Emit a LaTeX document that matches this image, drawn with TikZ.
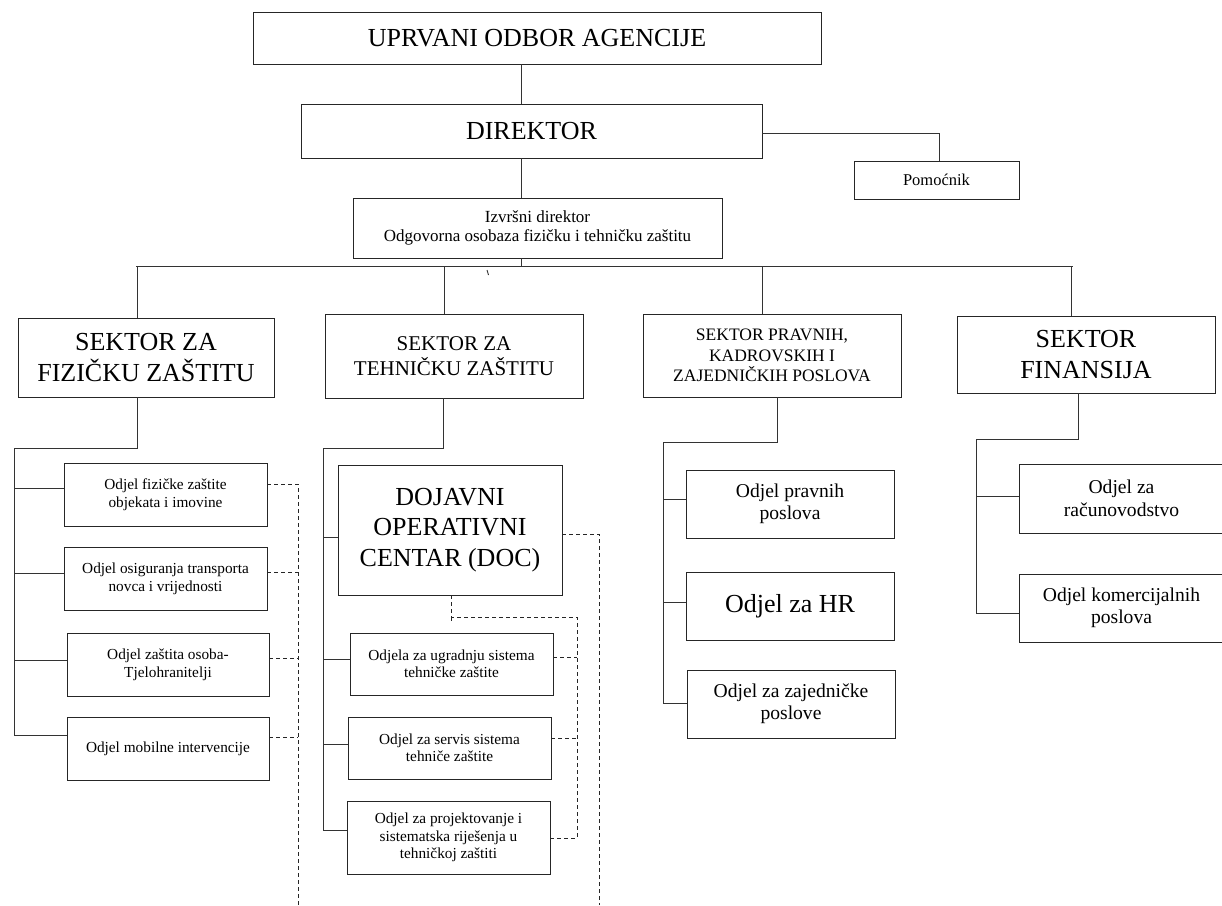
\documentclass[tikz,border=0pt]{standalone}
\usepackage{fontspec}
\setmainfont{Liberation Serif}
\begin{document}
\begin{tikzpicture}[x=1pt,y=-1pt,
  box/.style={draw=black!85, line width=0.9pt, align=center, inner sep=0pt, fill=white},
  ln/.style={draw=black!80, line width=0.9pt},
  dsh/.style={draw=black!85, line width=0.9pt, dash pattern=on 4pt off 3pt},
  fA/.style={font=\fontsize{26}{30.5}\selectfont},
  fS2/.style={font=\fontsize{21}{25}\selectfont},
  fS3/.style={font=\fontsize{17.5}{20.7}\selectfont},
  fC/.style={font=\fontsize{15.3}{18}\selectfont},
  fD/.style={font=\fontsize{15.3}{17.5}\selectfont},
  fE/.style={font=\fontsize{19.6}{22.5}\selectfont}]
\useasboundingbox (0,0) rectangle (1222,905);
% top levels
\node[box, fA, minimum width=568pt, minimum height=52pt] (top) at (537,38) {UPRVANI ODBOR AGENCIJE};
\node[box, fA, minimum width=461pt, minimum height=54pt] (dir) at (531.5,131) {DIREKTOR};
\node[box, font=\fontsize{16.5}{19}\selectfont, minimum width=165pt, minimum height=38pt] (pom) at (936.5,180) {Pomoćnik};
\node[box, font=\fontsize{17}{19.5}\selectfont, minimum width=369pt, minimum height=60pt] (izv) at (537.5,228) {Izvršni direktor\\Odgovorna osobaza fizičku i tehničku zaštitu};
% sectors
\node[box, fA, minimum width=256pt, minimum height=79pt] (s1) at (146,357.5) {SEKTOR ZA\\FIZIČKU ZAŠTITU};
\node[box, fS2, minimum width=258pt, minimum height=84pt] (s2) at (454,356) {SEKTOR ZA\\TEHNIČKU ZAŠTITU};
\node[box, fS3, minimum width=258pt, minimum height=83pt] (s3) at (772,355.5) {SEKTOR PRAVNIH,\\KADROVSKIH I\\ZAJEDNIČKIH POSLOVA};
\node[box, fA, minimum width=258pt, minimum height=77pt] (s4) at (1086,354.5) {SEKTOR\\FINANSIJA};
% left column
\node[box, fC, minimum width=203pt, minimum height=63pt] (c1) at (165.5,494.5) {Odjel fizičke zaštite\\objekata i imovine};
\node[box, fC, minimum width=203pt, minimum height=63pt] (c2) at (165.5,578.5) {Odjel osiguranja transporta\\novca i vrijednosti};
\node[box, fC, minimum width=202pt, minimum height=63pt] (c3) at (168,664.5) {Odjel zaštita osoba-\\Tjelohranitelji};
\node[box, fC, minimum width=202pt, minimum height=63pt] (c4) at (168,748.5) {Odjel mobilne intervencije};
% middle column
\node[box, fA, minimum width=224pt, minimum height=130pt] (doc) at (450,530) {DOJAVNI\\OPERATIVNI\\CENTAR (DOC)};
\node[box, fD, minimum width=203pt, minimum height=62pt] (d1) at (451.5,664) {Odjela za ugradnju sistema\\tehničke zaštite};
\node[box, fD, minimum width=203pt, minimum height=62pt] (d2) at (449.5,748) {Odjel za servis sistema\\tehniče zaštite};
\node[box, fD, minimum width=203pt, minimum height=73pt] (d3) at (448.5,837.5) {Odjel za projektovanje i\\sistematska riješenja u\\tehničkoj zaštiti};
% third column
\node[box, fE, minimum width=208pt, minimum height=68pt] (e1) at (790,504) {Odjel pravnih\\poslova};
\node[box, fA, minimum width=208pt, minimum height=68pt] (e2) at (790,606) {Odjel za HR};
\node[box, fE, minimum width=208pt, minimum height=68pt] (e3) at (791,704) {Odjel za zajedničke\\poslove};
% fourth column
\node[box, fE, minimum width=205pt, minimum height=69pt] (f1) at (1121.5,498.5) {Odjel za\\računovodstvo};
\node[box, fE, minimum width=205pt, minimum height=68pt] (f2) at (1121.5,608) {Odjel komercijalnih\\poslova};

% ---- connectors top
\coordinate (vA) at (521,0);
\draw[ln] (top.south -| vA) -- (dir.north -| vA);
\draw[ln] (dir.south -| vA) -- (izv.north -| vA);
\coordinate (pk) at (939,133);
\draw[ln] (pk -| dir.east) -- (pk) -- (pk |- pom.north);
\coordinate (busL) at (136,266);
\coordinate (busR) at (1073,266);
\draw[ln] (busL) -- (busR);
\draw[ln] (izv.south -| vA) -- (vA |- busL);
\coordinate (stA) at (487,270);
\coordinate (stB) at (488.5,275);
\draw[ln] (stA) -- (stB);
\coordinate (b1) at (137,266);
\coordinate (b2) at (444,266);
\coordinate (b3) at (762,266);
\coordinate (b4) at (1071,266);
\draw[ln] (b1) -- (b1 |- s1.north);
\draw[ln] (b2) -- (b2 |- s2.north);
\draw[ln] (b3) -- (b3 |- s3.north);
\draw[ln] (b4) -- (b4 |- s4.north);

% ---- sector 1
\coordinate (j1) at (137,448);
\coordinate (t1) at (14,448);
\coordinate (k1) at (14,488);
\coordinate (k2) at (14,573);
\coordinate (k3) at (14,660);
\coordinate (k4) at (14,735);
\draw[ln] (s1.south -| j1) -- (j1) -- (t1) -- (k4) -- (k4 -| c4.west);
\draw[ln] (k1) -- (k1 -| c1.west);
\draw[ln] (k2) -- (k2 -| c2.west);
\draw[ln] (k3) -- (k3 -| c3.west);
\coordinate (p1) at (298,484);
\coordinate (p2) at (298,572);
\coordinate (p3) at (298,658);
\coordinate (p4) at (298,737);
\coordinate (pe) at (298,905);
\draw[dsh] (p1 -| c1.east) -- (p1) -- (pe);
\draw[dsh] (p2 -| c2.east) -- (p2);
\draw[dsh] (p3 -| c3.east) -- (p3);
\draw[dsh] (p4 -| c4.east) -- (p4);

% ---- sector 2
\coordinate (j2) at (443,448);
\coordinate (t2) at (323,448);
\coordinate (m0) at (323,537);
\coordinate (m1) at (323,659);
\coordinate (m2) at (323,744);
\coordinate (m3) at (323,830);
\draw[ln] (s2.south -| j2) -- (j2) -- (t2) -- (m3) -- (m3 -| d3.west);
\draw[ln] (m0) -- (m0 -| doc.west);
\draw[ln] (m1) -- (m1 -| d1.west);
\draw[ln] (m2) -- (m2 -| d2.west);
\coordinate (r0) at (599,534);
\coordinate (re) at (599,905);
\draw[dsh] (r0 -| doc.east) -- (r0) -- (re);
\coordinate (u0) at (451,617);
\coordinate (u1) at (577,617);
\coordinate (u2) at (577,657);
\coordinate (u3) at (577,738);
\coordinate (u4) at (577,838);
\draw[dsh] (doc.south -| u0) -- (u0) -- (u1) -- (u4);
\draw[dsh] (u0) -- ++(0,5);
\draw[dsh] (u2 -| d1.east) -- (u2);
\draw[dsh] (u3 -| d2.east) -- (u3);
\draw[dsh] (u4 -| d3.east) -- (u4);

% ---- sector 3
\coordinate (j3) at (777,442);
\coordinate (t3) at (663,442);
\coordinate (n1) at (663,499);
\coordinate (n2) at (663,602);
\coordinate (n3) at (663,703);
\draw[ln] (s3.south -| j3) -- (j3) -- (t3) -- (n3) -- (n3 -| e3.west);
\draw[ln] (n1) -- (n1 -| e1.west);
\draw[ln] (n2) -- (n2 -| e2.west);

% ---- sector 4
\coordinate (j4) at (1078,439);
\coordinate (t4) at (976,439);
\coordinate (g1) at (976,496);
\coordinate (g2) at (976,613);
\draw[ln] (s4.south -| j4) -- (j4) -- (t4) -- (g2) -- (g2 -| f2.west);
\draw[ln] (g1) -- (g1 -| f1.west);
\end{tikzpicture}
\end{document}
